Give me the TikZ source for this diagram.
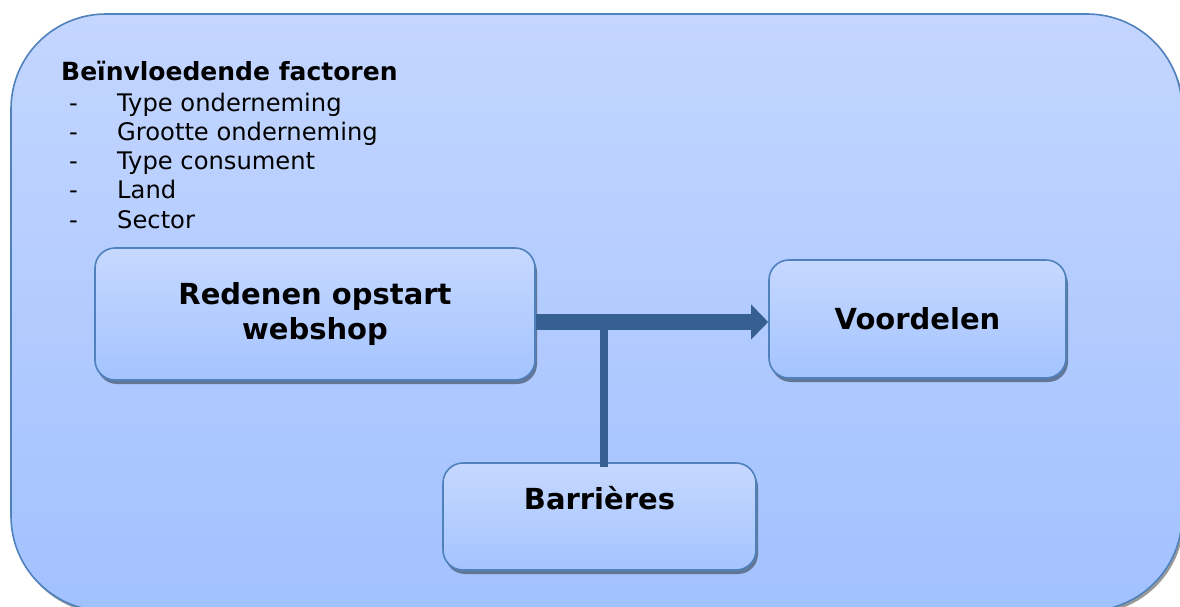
\documentclass[tikz,border=0pt]{standalone}
\usepackage{fontspec}
\setmainfont{DejaVu Sans}
\usetikzlibrary{shadows,arrows.meta}
\definecolor{frametop}{RGB}{196,214,255}
\definecolor{framebot}{RGB}{161,193,255}
\definecolor{boxtop}{RGB}{198,216,255}
\definecolor{boxbot}{RGB}{164,196,255}
\definecolor{edge}{RGB}{79,129,189}
\definecolor{arrowc}{RGB}{54,96,146}
\definecolor{boxshadow}{RGB}{98,118,150}
\tikzset{
  framebox/.style={draw=edge, line width=1.6pt, rounded corners=95pt,
    top color=frametop, bottom color=framebot,
    drop shadow={shadow xshift=2pt, shadow yshift=-3pt, fill=black!40, opacity=1}},
  ibox/.style={draw=edge, line width=1.6pt, rounded corners=20pt,
    top color=boxtop, bottom color=boxbot, inner sep=0pt,
    drop shadow={shadow xshift=2pt, shadow yshift=-4pt, fill=boxshadow, opacity=1},
    font=\bfseries\fontsize{29}{35}\selectfont, align=center},
  listtxt/.style={anchor=base west, inner sep=0pt, font=\fontsize{24.2}{29}\selectfont},
  titletxt/.style={anchor=base west, inner sep=0pt, font=\bfseries\fontsize{25}{29}\selectfont},
  flow/.style={draw=arrowc, line width=16pt, -{Triangle[length=17pt,width=34pt]}},
  stem/.style={draw=arrowc, line width=8pt}
}
\begin{document}
\begin{tikzpicture}[x=1pt,y=-1pt]
\useasboundingbox (0,0) rectangle (1180,606);
\clip (0,0) rectangle (1180,606);
\node[framebox, minimum width=1171pt, minimum height=597pt] (frame) at (596.5,312.5) {};
\node[titletxt] (title) at (61,80) {Beïnvloedende factoren};
\foreach \t/\y [count=\i] in {Type onderneming/111, Grootte onderneming/140, Type consument/169, Land/198, Sector/228}{
  \node[listtxt] (d\i) at (69,\y) {-};
  \node[listtxt] (l\i) at (117,\y) {\t};
}
\node[ibox, minimum width=440pt, minimum height=132pt] (red) at (315,314) {Redenen opstart\\webshop};
\node[ibox, minimum width=297pt, minimum height=118pt] (voo) at (917.5,319) {Voordelen};
\node[ibox, minimum width=313pt, minimum height=107pt, text height=22pt, text depth=37pt] (bar) at (599.5,516.5) {Barrières};
\coordinate (j) at (604,322);
\draw[stem] (j) -- ([yshift=-5pt]j |- bar.north);
\draw[flow] (red.east |- j) -- (voo.west |- j);
\end{tikzpicture}
\end{document}
